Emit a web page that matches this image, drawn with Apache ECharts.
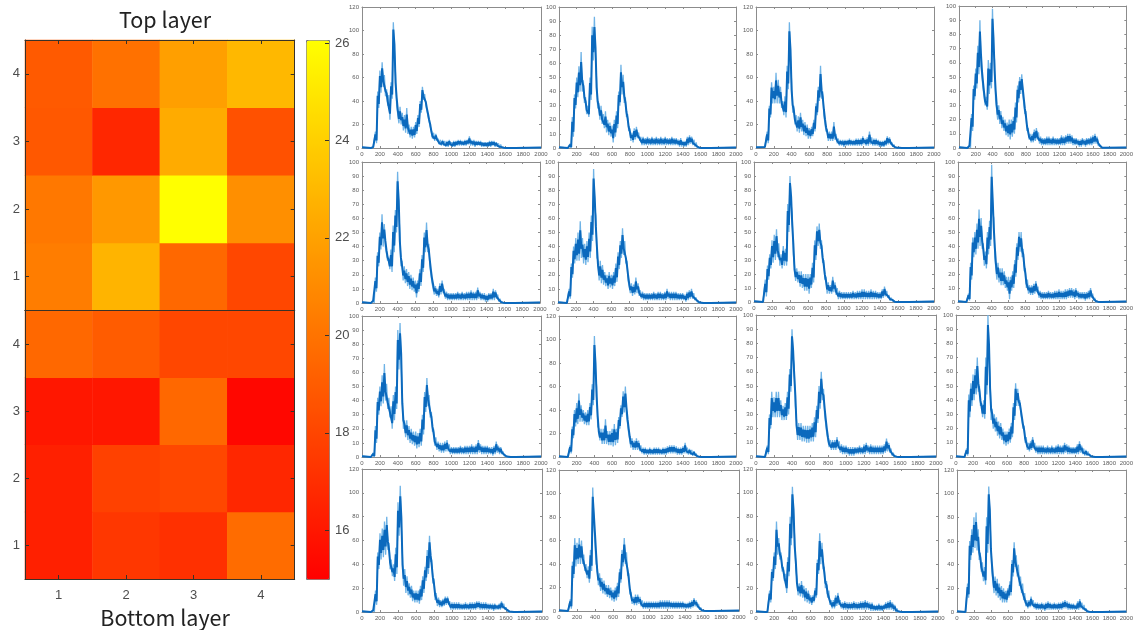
<!DOCTYPE html>
<html>
<head>
<meta charset="utf-8">
<style>html,body{margin:0;padding:0;background:#fff}#c{width:1136px;height:630px;filter:blur(0.5px)}</style>
<script src="https://cdn.jsdelivr.net/npm/echarts@6/dist/echarts.min.js"></script>
</head>
<body>
<div id="c"></div>
<script>
// Heat map values, rows listed bottom (1) to top (4)
const topLayer = [
  [20.4, 22.8, 19.5, 18.1],
  [20.2, 21.6, 26.06, 21.2],
  [18.8, 16.7, 22.4, 18.5],
  [18.9, 19.9, 21.9, 23.0]
];
const bottomLayer = [
  [16.4, 17.4, 17.1, 19.7],
  [16.4, 17.8, 18.1, 16.7],
  [16.0, 16.0, 19.5, 15.3],
  [19.5, 19.0, 18.1, 18.1]
];
const cellLabels = ['1', '2', '3', '4'];
const colorbarTicks = [16, 18, 20, 22, 24, 26];

// Spectra: x samples, then upper and lower noise envelope for each panel (row, column)
const xs = [100,125,150,175,200,225,250,275,300,325,350,375,400,425,450,475,500,525,550,575,600,625,650,675,700,725,750,775,800,825,850,875,900,925,950,975,1000,1025,1050,1075,1100,1125,1150,1175,1200,1225,1250,1275,1300,1325,1350,1375,1400,1425,1450,1475,1500,1525,1550,1575,1600,1625,1650,1675,1700];

const hi11 = [0,1,14,48,66,73,62,50,45,56,107,62,36,35,30,28,34,20,18,18,22,28,40,52,46,36,26,16,13,12,8,7,7,6,6,7,5,6,6,7,7,6,7,7,10,7,7,6,6,6,5,5,5,6,6,6,5,4,3,1,0,0,0,0,0];
const lo11 = [0,0,4,34,47,52,44,36,24,42,82,36,21,20,15,13,12,9,8,9,12,18,30,41,37,27,18,8,6,6,3,2,2,1,1,2,1,1,2,2,2,2,2,3,2,2,1,2,2,1,1,1,1,1,2,1,1,0,0,0,0,0,0,0,0];
const hi12 = [0,3,22,38,50,58,68,48,36,30,50,86,93,48,32,30,24,26,20,18,16,20,26,40,59,52,36,24,14,11,14,15,11,8,8,7,8,7,8,7,8,7,8,7,8,7,7,8,7,7,6,7,5,5,8,9,8,6,4,1,0,0,0,0,0];
const lo12 = [0,0,8,28,36,40,40,32,24,22,34,62,64,28,20,17,14,11,9,8,4,8,14,30,38,32,22,12,5,4,6,7,5,2,2,2,2,2,2,2,2,2,2,2,2,2,2,2,2,2,1,1,1,1,2,3,2,1,0,0,0,0,0,0,0];
const hi13 = [1,14,36,56,52,64,58,52,40,44,70,107,56,36,28,27,30,24,22,20,17,18,24,38,52,70,48,28,16,14,14,22,12,8,7,7,7,7,8,7,7,8,8,8,10,8,9,14,9,8,8,7,6,6,7,10,9,5,3,1,1,0,0,0,0];
const lo13 = [0,4,26,38,38,38,38,34,28,26,50,76,30,20,14,13,14,11,10,8,8,10,14,28,40,42,28,14,6,6,6,7,4,2,2,1,2,2,2,2,2,2,2,2,3,2,2,3,2,2,2,1,1,1,2,3,3,1,0,0,0,0,0,0,0];
const hi14 = [0,2,24,44,56,72,90,58,42,36,62,60,98,62,34,30,26,22,20,18,20,20,22,32,44,50,52,38,26,14,10,10,13,14,11,8,7,7,8,8,7,8,7,7,7,9,8,9,10,10,9,7,7,6,6,7,6,7,7,8,9,10,8,3,1];
const lo14 = [0,0,12,34,42,52,58,42,30,27,38,42,70,34,20,17,14,12,9,8,6,8,10,18,32,38,38,24,12,6,4,4,5,6,3,2,2,2,2,2,2,2,2,2,2,2,2,3,3,3,2,2,2,1,1,2,1,2,2,2,3,3,2,1,0];

const hi21 = [0,2,18,36,50,63,56,40,32,38,55,66,93,50,30,26,24,22,20,18,16,16,24,34,50,57,42,26,15,12,10,14,16,10,8,7,7,7,7,8,7,8,7,8,8,9,8,8,11,8,7,7,6,7,7,10,9,6,3,1,0,0,0,0,0];
const lo21 = [0,0,8,26,38,40,40,30,24,22,36,50,66,26,16,14,12,10,9,8,4,8,12,22,36,36,26,14,6,5,4,6,7,3,2,2,2,2,2,2,2,2,2,2,2,2,2,2,3,2,2,1,1,2,2,2,3,1,0,0,0,0,0,0,0];
const hi22 = [0,10,28,40,46,50,58,46,42,44,50,62,95,62,30,30,27,22,20,22,20,22,28,36,44,53,44,30,16,14,13,18,14,9,8,7,7,7,7,8,7,8,8,7,8,10,8,8,8,8,7,7,7,6,8,9,10,7,4,2,1,0,0,0,0];
const lo22 = [0,3,18,28,30,30,32,28,27,29,32,44,68,32,16,14,13,12,10,11,10,12,15,24,32,34,28,16,7,5,6,7,5,3,2,2,2,2,2,2,2,2,2,2,2,3,2,2,2,2,2,2,2,1,2,3,3,2,1,0,0,0,0,0,0];
const hi23 = [0,16,26,34,44,48,52,42,34,40,38,70,90,62,26,24,22,22,20,20,20,20,28,44,54,56,44,30,18,14,12,18,14,10,8,7,7,7,7,7,8,7,8,8,9,9,8,8,9,8,8,7,7,9,11,8,5,3,1,0,0,0,0,0,0];
const lo23 = [0,4,16,24,28,30,32,26,24,26,26,50,70,34,15,14,11,10,8,8,6,10,14,30,40,38,28,16,6,6,6,7,5,2,2,2,2,2,2,2,2,2,2,2,2,2,2,2,2,2,2,2,2,3,4,3,1,1,0,0,0,0,0,0,0];
const hi24 = [0,6,28,46,50,56,66,60,42,36,50,58,98,60,32,28,24,24,22,18,18,18,22,30,42,50,50,38,24,16,12,12,13,15,11,8,7,7,7,8,7,7,8,8,9,8,8,9,9,10,10,9,10,8,7,7,7,7,8,10,6,3,1,0,0];
const lo24 = [0,1,16,32,34,38,40,38,26,24,34,40,64,32,16,14,12,12,10,8,2,8,10,18,30,36,32,22,10,6,5,5,6,7,3,2,2,2,2,2,2,2,2,2,2,2,2,2,3,3,3,2,3,2,2,2,1,2,2,3,1,0,0,0,0];

const hi31 = [0,3,22,42,50,58,66,52,42,36,44,50,90,95,44,26,26,22,20,18,18,17,20,30,46,56,44,32,20,14,11,10,10,11,12,9,7,7,7,7,8,7,8,8,8,9,8,9,12,9,8,8,8,7,7,8,11,8,7,4,2,1,0,0,0];
const lo31 = [0,0,10,30,36,38,40,34,28,20,26,34,62,66,20,14,12,10,9,8,6,7,8,16,32,36,28,18,8,5,4,3,3,4,4,2,2,2,2,2,2,2,2,2,2,2,2,2,3,2,2,2,2,2,1,2,3,2,2,1,0,0,0,0,0];
const hi32 = [0,10,26,40,46,54,44,40,38,40,46,62,103,60,24,24,24,32,22,22,24,28,24,34,44,56,60,36,20,16,14,16,14,10,8,8,7,8,7,8,8,8,7,8,8,9,10,10,10,9,8,8,9,12,8,7,6,5,3,1,0,0,0,0,0];
const lo32 = [0,3,16,26,28,30,30,28,27,27,32,44,72,26,14,11,11,11,10,10,9,10,12,24,34,38,36,20,8,6,6,6,5,3,2,2,2,2,2,2,2,2,2,2,2,3,3,3,3,2,2,2,3,3,2,2,1,1,0,0,0,0,0,0,0];
const hi33 = [0,8,30,46,42,46,46,40,36,38,46,62,90,64,26,24,24,22,22,22,22,24,28,36,50,60,48,30,16,12,12,12,14,11,9,8,8,7,7,7,7,7,8,7,9,10,8,9,8,8,8,8,8,9,13,10,6,3,1,0,0,0,0,0,0];
const lo33 = [0,2,20,28,28,28,28,26,26,26,30,46,70,36,12,12,11,11,10,10,11,11,14,24,34,40,30,16,7,5,5,5,6,3,2,2,2,1,1,1,2,2,2,2,2,3,2,2,2,2,2,2,2,3,4,3,1,0,0,0,0,0,0,0,0];
const hi34 = [0,6,44,52,58,62,70,50,38,40,70,100,56,34,30,28,25,24,20,18,18,20,24,38,52,48,40,30,22,14,10,11,14,10,8,8,8,8,7,8,7,8,7,8,9,8,8,10,9,8,7,7,7,9,11,8,6,5,4,2,1,0,0,0,0];
const lo34 = [0,1,28,36,40,44,46,36,28,27,44,72,26,20,18,15,13,12,9,8,9,10,14,26,36,36,30,20,10,5,4,5,6,3,2,2,2,2,2,2,2,2,2,2,2,2,2,3,2,2,2,2,2,2,3,2,1,1,1,0,0,0,0,0,0];

const hi41 = [0,2,18,50,66,70,76,80,58,44,40,54,92,106,46,36,30,24,22,18,18,18,22,30,38,52,64,44,28,16,12,10,11,13,13,9,8,8,8,8,7,7,8,7,8,8,8,9,9,8,8,8,7,7,7,7,6,7,9,7,4,2,1,0,0];
const lo41 = [0,0,6,36,44,46,48,52,36,30,26,32,64,70,22,16,14,12,9,8,8,7,10,16,26,32,42,24,10,5,4,4,5,6,6,2,2,2,2,2,2,2,2,2,2,2,2,3,2,2,2,2,2,2,1,2,2,2,3,2,1,0,0,0,0];
const hi42 = [0,10,42,62,58,62,60,48,40,38,52,105,74,38,32,28,26,22,22,20,18,20,24,36,52,62,50,32,16,12,14,14,12,9,8,8,8,8,8,8,8,9,9,9,9,9,8,8,8,8,8,8,7,7,8,9,11,9,6,3,1,0,0,0,0];
const lo42 = [0,2,28,38,40,40,40,34,28,24,34,74,40,22,17,15,14,12,11,9,8,9,12,24,38,40,30,14,6,5,5,6,4,2,2,2,2,2,2,2,2,2,2,2,2,2,2,2,2,2,2,2,2,2,2,3,4,3,1,0,0,0,0,0,0];
const hi43 = [0,0,18,36,50,76,62,50,38,32,46,80,105,62,28,24,26,22,20,18,14,14,20,44,66,58,38,26,18,10,10,14,16,10,8,9,8,8,8,9,8,8,9,9,10,9,8,8,6,6,7,6,6,8,9,10,8,6,3,1,0,0,0,0,0];
const lo43 = [0,0,8,26,36,48,44,34,26,16,30,56,80,36,14,13,12,9,8,7,6,8,12,32,40,36,20,12,6,3,3,5,6,3,2,2,2,2,2,2,2,2,2,2,2,2,1,1,1,1,1,1,2,2,2,2,1,0,0,0,0,0,0,0,0];
const hi44 = [0,24,60,70,80,84,70,50,42,38,80,106,60,34,30,28,24,22,20,18,20,26,44,59,48,40,30,24,16,10,10,13,10,8,8,7,8,7,8,9,8,7,8,7,8,8,9,10,9,8,7,7,6,9,11,8,6,3,1,0,0,0,0,0,0];
const lo44 = [0,12,44,50,54,52,44,34,26,23,50,80,34,16,14,12,10,8,8,8,12,14,30,38,30,22,16,10,5,3,4,5,3,2,2,2,2,1,2,2,2,2,2,2,2,2,3,3,2,2,2,2,2,2,3,2,1,0,0,0,0,0,0,0,0];

const yMax = [
  [120, 100, 120, 100],
  [100, 100, 100, 100],
  [100, 120, 100, 100],
  [120, 120, 120, 120]
];
const spectra = [
  [[hi11, lo11], [hi12, lo12], [hi13, lo13], [hi14, lo14]],
  [[hi21, lo21], [hi22, lo22], [hi23, lo23], [hi24, lo24]],
  [[hi31, lo31], [hi32, lo32], [hi33, lo33], [hi34, lo34]],
  [[hi41, lo41], [hi42, lo42], [hi43, lo43], [hi44, lo44]]
];

// Layout in pixels: [left, right, top, bottom] of each small panel
const boxes = [
  [[362,541,7,148],[559,736,7,148],[756,934,7,148],[959,1134,6,148]],
  [[362,540,162,303],[558,736,162,303],[754,934,162,302],[958,1136,162,302]],
  [[362,541,316,457],[559,736,316,457],[756,936,315,457],[956,1136,315,457]],
  [[362,542,469,612],[559,739,470,611],[756,938,469,612],[957,1136,470,612]]
];

const W = 1136, H = 630;
const grids = [], xAxes = [], yAxes = [], series = [];
const dark = '#3a3228', text = '#4d4d4d';

function addGrid(l, r, t, b) {
  grids.push({ left: l, width: r - l, top: t, height: b - t, containLabel: false });
  return grids.length - 1;
}
function cellAxis(gi, pos, labels, isY) {
  const ax = {
    type: 'category', gridIndex: gi, position: pos, data: cellLabels, z: 10,
    axisLine: { show: true, onZero: false, lineStyle: { color: dark, width: 1 } },
    axisTick: { show: true, inside: true, alignWithLabel: true, length: 4, lineStyle: { color: dark } },
    axisLabel: { show: labels, color: text, fontSize: 13, margin: isY ? 5 : 10, fontFamily: 'Liberation Sans' },
    splitLine: { show: false }, splitArea: { show: false }
  };
  (isY ? yAxes : xAxes).push(ax);
  return (isY ? yAxes : xAxes).length - 1;
}
function heat(rows, l, r, t, b, showBottomLabels, showTopTicks) {
  const gi = addGrid(l, r, t, b);
  const xi = cellAxis(gi, 'bottom', showBottomLabels, false);
  if (!showBottomLabels) xAxes[xi].axisTick.show = false;
  const xt = cellAxis(gi, 'top', false, false);
  if (!showTopTicks) xAxes[xt].axisTick.show = false;
  const yi = cellAxis(gi, 'left', true, true);
  cellAxis(gi, 'right', false, true);
  const data = [];
  rows.forEach((row, ry) => row.forEach((v, cx) => data.push([cx, ry, v])));
  series.push({ type: 'heatmap', xAxisIndex: xi, yAxisIndex: yi, data, silent: true, animation: false, progressive: 0 });
}
heat(topLayer, 25, 294.7, 40, 310.5, false, true);
heat(bottomLayer, 25, 294.7, 310.5, 579, true, false);

// Colourbar axis
const cb = addGrid(306, 329, 40, 579);
xAxes.push({ type: 'value', gridIndex: cb, min: 0, max: 1, show: false });
yAxes.push({
  type: 'value', gridIndex: cb, position: 'right', min: 15, max: 26.06, z: 10,
  axisLine: { show: false, onZero: false },
  axisTick: { show: true, inside: true, length: 4, lineStyle: { color: dark }, customValues: colorbarTicks },
  axisLabel: { color: text, fontSize: 13, margin: 6, padding: [4, 0, 0, 0], fontFamily: 'Liberation Sans', customValues: colorbarTicks, formatter: v => String(v) },
  splitLine: { show: false }
});

// Small panels
const axisGrey = '#8c8c8c', tickText = '#5c5c5c';
boxes.forEach((rowBoxes, r) => rowBoxes.forEach((b, c) => {
  const gi = addGrid(b[0], b[1], b[2], b[3]);
  const top = yMax[r][c];
  const step = top === 120 ? 20 : 10;
  const xCommon = { type: 'value', gridIndex: gi, min: 0, max: 2000, interval: 200,
    axisLine: { show: true, onZero: false, lineStyle: { color: axisGrey, width: 1 } },
    axisTick: { show: true, inside: true, length: 2, lineStyle: { color: axisGrey } },
    splitLine: { show: false } };
  const yCommon = { type: 'value', gridIndex: gi, min: 0, max: top, interval: step,
    axisLine: { show: true, onZero: false, lineStyle: { color: axisGrey, width: 1 } },
    axisTick: { show: true, inside: true, length: 2, lineStyle: { color: axisGrey } },
    splitLine: { show: false } };
  xAxes.push(Object.assign({}, xCommon, { position: 'bottom',
    axisLabel: { show: true, fontSize: 6, color: tickText, margin: 3, hideOverlap: false, showMaxLabel: true, showMinLabel: true, formatter: v => String(v) } }));
  const xi = xAxes.length - 1;
  xAxes.push(Object.assign({}, xCommon, { position: 'top', axisLabel: { show: false } }));
  yAxes.push(Object.assign({}, yCommon, { position: 'left',
    axisLabel: { show: true, fontSize: 6, color: tickText, margin: 3, hideOverlap: false, showMaxLabel: true, showMinLabel: true } }));
  const yi = yAxes.length - 1;
  yAxes.push(Object.assign({}, yCommon, { position: 'right', axisLabel: { show: false } }));

  const [hi, lo] = spectra[r][c];
  const halo = [[0, 0.6]], core = [[0, 0.6]];
  xs.forEach((x, i) => {
    const mid = (hi[i] + lo[i]) / 2;
    halo.push([x, hi[i]]);
    halo.push([x + 12.5, lo[i]]);
    core.push([x, (mid + hi[i]) / 2]);
    core.push([x + 12.5, (mid + lo[i]) / 2]);
  });
  halo.push([2000, 0.4]);
  core.push([2000, 0.4]);
  const line = { type: 'line', xAxisIndex: xi, yAxisIndex: yi, symbol: 'none', silent: true, animation: false, clip: true };
  series.push(Object.assign({}, line, { data: halo, lineStyle: { color: '#6fb3e6', width: 1.3, join: 'bevel' } }));
  series.push(Object.assign({}, line, { data: core, lineStyle: { color: '#0b69bd', width: 2, join: 'bevel' } }));
}));

const chart = echarts.init(document.getElementById('c'), null, { width: W, height: H });
chart.setOption({
  backgroundColor: '#ffffff',
  animation: false,
  title: [
    { text: 'Top layer', left: 160, top: 4, textAlign: 'center', textStyle: { fontSize: 21.5, fontWeight: 'normal', color: '#222', fontFamily: 'Noto Sans CJK KR' } },
    { text: 'Bottom layer', left: 160, top: 602, textAlign: 'center', textStyle: { fontSize: 21.5, fontWeight: 'normal', color: '#222', fontFamily: 'Noto Sans CJK KR' } }
  ],
  grid: grids,
  xAxis: xAxes,
  yAxis: yAxes,
  visualMap: {
    type: 'continuous', seriesIndex: [0, 1], min: 15, max: 26.06, calculable: false, realtime: false,
    left: 306, top: 40, itemWidth: 23, itemHeight: 539, padding: 0, text: null, showLabel: false, hoverLink: false,
    borderColor: '#777', borderWidth: 1,
    inRange: { color: ['#ff0000', '#ffff00'] }
  },
  series
});
</script>
</body>
</html>
